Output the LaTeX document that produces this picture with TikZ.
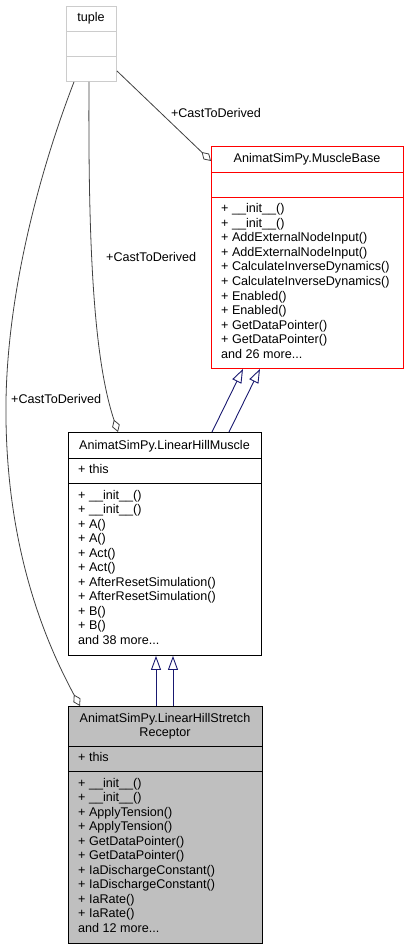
\documentclass[tikz,border=0pt]{standalone}
\usepackage{fontspec}
\setmainfont{Liberation Sans}
\usepackage{xcolor}
\usepackage{tikz}
\usetikzlibrary{calc,arrows.meta}
\definecolor{edgec}{HTML}{404040}
\definecolor{inhc}{HTML}{191970}
\definecolor{greyc}{HTML}{BFBFBF}
\definecolor{ghostc}{HTML}{CCCCCC}
\newcommand{\dfont}{\fontsize{12.6}{14.5}\selectfont}
\newcommand{\moreitems}[1]{and #1 more...}
\tikzset{
  cls/.style={draw=black,line width=0.9pt,inner sep=0pt,anchor=north west},
  txt/.style={font=\dfont,inner sep=0pt,anchor=base west},
  ttl/.style={font=\dfont,inner sep=0pt,anchor=base},
  lbl/.style={font=\dfont,inner sep=0pt},
  agg/.style={edgec,line width=0.8pt,-{Diamond[open,length=13pt,width=8pt]}},
  inh/.style={inhc,line width=0.9pt,-{Triangle[open,length=14pt,width=10pt]}}
}

\begin{document}
\begin{tikzpicture}[x=1pt,y=-1pt]
\useasboundingbox (0,0) rectangle (409,949);
% tuple
\node[cls,draw=ghostc,minimum width=50pt,minimum height=75pt] (tuple) at (66,6) {};
\draw[ghostc,line width=0.9pt] (66,31) -- (116,31) (66,56) -- (116,56);
\node[ttl] (tuple-n) at (91,22) {tuple};
% MuscleBase
\node[cls,draw=red,minimum width=192pt,minimum height=222pt] (mb) at (211,146) {};
\draw[red,line width=0.9pt] (211,172) -- (403,172) (211,197) -- (403,197);
\node[ttl] (mb-n) at (307,163) {AnimatSimPy.MuscleBase};
\foreach \m [count=\i from 0] in {+ \_\_init\_\_(),+ \_\_init\_\_(),+ AddExternalNodeInput(),+ AddExternalNodeInput(),+ CalculateInverseDynamics(),+ CalculateInverseDynamics(),+ Enabled(),+ Enabled(),+ GetDataPointer(),+ GetDataPointer(),\moreitems{26}}
  \node[txt] (mb-m\i) at (221,{213+14.5*\i}) {\m};
% LinearHillMuscle
\node[cls,minimum width=193pt,minimum height=223pt] (lhm) at (68,432) {};
\draw[line width=0.9pt] (68,458) -- (261,458) (68,483) -- (261,483);
\node[ttl] (lhm-n) at (164.5,449) {AnimatSimPy.LinearHillMuscle};
\node[txt] (lhm-a) at (78,473) {+ this};
\foreach \m [count=\i from 0] in {+ \_\_init\_\_(),+ \_\_init\_\_(),+ A(),+ A(),+ Act(),+ Act(),+ AfterResetSimulation(),+ AfterResetSimulation(),+ B(),+ B(),\moreitems{38}}
  \node[txt] (lhm-m\i) at (78,{499+14.5*\i}) {\m};
% LinearHillStretchReceptor
\node[cls,fill=greyc,minimum width=194pt,minimum height=237pt] (lhsr) at (68,706) {};
\draw[line width=0.9pt] (68,746) -- (262,746) (68,771) -- (262,771);
\node[ttl] (lhsr-n1) at (165,722) {AnimatSimPy.LinearHillStretch};
\node[ttl] (lhsr-n2) at (165,736.5) {Receptor};
\node[txt] (lhsr-a) at (78,761) {+ this};
\foreach \m [count=\i from 0] in {+ \_\_init\_\_(),+ \_\_init\_\_(),+ ApplyTension(),+ ApplyTension(),+ GetDataPointer(),+ GetDataPointer(),+ IaDischargeConstant(),+ IaDischargeConstant(),+ IaRate(),+ IaRate(),\moreitems{12}}
  \node[txt] (lhsr-m\i) at (78,{787+14.5*\i}) {\m};
% collaboration edges
\draw[agg] ([yshift=11pt]tuple.south east) -- ([yshift=-15pt]mb.north west);
\draw[agg] ([xshift=23pt]tuple.south west) .. controls (88,250) and (94,360) .. ([xshift=50pt]lhm.north west);
\draw[agg] ([xshift=8pt]tuple.south west) .. controls (40,170) and (4,300) .. (6,420) .. controls (8,560) and (50,650) .. ([xshift=12pt]lhsr.north west);
\node[lbl] (lbl-mb) at (216,113) {+CastToDerived};
\node[lbl,anchor=west] (lbl-lhm) at (106,257) {+CastToDerived};
\node[lbl,anchor=west] (lbl-lhsr) at (11,399) {+CastToDerived};
% inheritance
\draw[inh] ([xshift=144pt]lhm.north west) -- ([xshift=32pt]mb.south west);
\draw[inh] ([xshift=161pt]lhm.north west) -- ([xshift=49pt]mb.south west);
\draw[inh] ([xshift=88pt]lhsr.north west) -- ([xshift=88pt]lhm.south west);
\draw[inh] ([xshift=105pt]lhsr.north west) -- ([xshift=105pt]lhm.south west);
\end{tikzpicture}
\end{document}
